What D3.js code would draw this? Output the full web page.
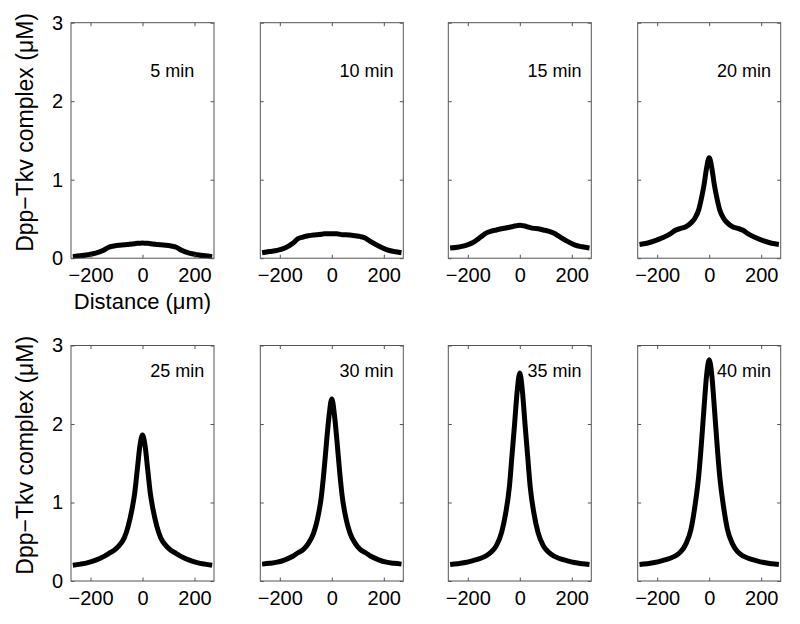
<!DOCTYPE html>
<html>
<head>
<meta charset="utf-8">
<script src="https://cdn.jsdelivr.net/npm/d3@7"></script>
<style>
  html, body { margin: 0; padding: 0; background: #fff; }
  svg { display: block; }
  text { font-family: "Liberation Sans", Arial, Helvetica, sans-serif; fill: #000; }
</style>
</head>
<body>
<svg id="chart" width="800" height="624"></svg>
<script>
// ---- data ----
const panelLabels = ["5 min", "10 min", "15 min", "20 min", "25 min", "30 min", "35 min", "40 min"];
const distance = [-268, -240, -210, -180, -150, -130, -110, -90, -70, -55, -40, -30, -20, -10, 0,
                  10, 20, 30, 40, 55, 70, 90, 110, 130, 150, 180, 210, 240, 268];
const t5  = [0.02, 0.03, 0.045, 0.065, 0.10, 0.14, 0.155, 0.165, 0.17, 0.175, 0.18, 0.185, 0.19, 0.19, 0.195,
             0.19, 0.19, 0.185, 0.18, 0.175, 0.17, 0.165, 0.155, 0.14, 0.10, 0.065, 0.045, 0.03, 0.02];
const t10 = [0.07, 0.085, 0.10, 0.13, 0.19, 0.25, 0.27, 0.285, 0.295, 0.30, 0.305, 0.31, 0.31, 0.31, 0.31,
             0.31, 0.31, 0.305, 0.30, 0.30, 0.295, 0.285, 0.275, 0.255, 0.21, 0.155, 0.11, 0.085, 0.07];
const t15 = [0.13, 0.14, 0.16, 0.20, 0.27, 0.32, 0.345, 0.36, 0.375, 0.385, 0.395, 0.40, 0.41, 0.415, 0.42,
             0.415, 0.41, 0.40, 0.39, 0.38, 0.375, 0.36, 0.345, 0.32, 0.28, 0.22, 0.17, 0.145, 0.13];
const t20 = [0.175, 0.19, 0.22, 0.26, 0.31, 0.355, 0.38, 0.40, 0.45, 0.51, 0.62, 0.76, 0.93, 1.15, 1.28,
             1.15, 0.93, 0.76, 0.62, 0.51, 0.45, 0.40, 0.38, 0.355, 0.31, 0.26, 0.22, 0.19, 0.175];
const t25 = [0.20, 0.215, 0.235, 0.265, 0.31, 0.35, 0.39, 0.45, 0.55, 0.70, 0.92, 1.12, 1.42, 1.72, 1.86,
             1.72, 1.42, 1.12, 0.92, 0.70, 0.55, 0.45, 0.39, 0.35, 0.31, 0.265, 0.235, 0.215, 0.20];
const t30 = [0.215, 0.225, 0.24, 0.27, 0.315, 0.36, 0.40, 0.48, 0.61, 0.79, 1.08, 1.40, 1.78, 2.12, 2.32,
             2.12, 1.78, 1.40, 1.08, 0.79, 0.61, 0.48, 0.40, 0.36, 0.315, 0.27, 0.24, 0.225, 0.215];
const t35 = [0.21, 0.22, 0.235, 0.26, 0.29, 0.32, 0.37, 0.45, 0.62, 0.85, 1.2, 1.6, 2.0, 2.42, 2.65,
             2.42, 2.0, 1.6, 1.2, 0.85, 0.62, 0.45, 0.37, 0.32, 0.29, 0.26, 0.235, 0.22, 0.21];
const t40 = [0.21, 0.22, 0.235, 0.26, 0.29, 0.32, 0.37, 0.47, 0.66, 0.95, 1.35, 1.75, 2.2, 2.62, 2.82,
             2.62, 2.2, 1.75, 1.35, 0.95, 0.66, 0.47, 0.37, 0.32, 0.29, 0.26, 0.235, 0.22, 0.21];
const seriesList = [t5, t10, t15, t20, t25, t30, t35, t40];
const xTicks = [-200, 0, 200];
const yTicks = [0, 1, 2, 3];
const yLabelText = "Dpp\u2212Tkv complex (\u03BCM)";
const xLabelText = "Distance (\u03BCm)";

// ---- layout ----
const colLeft = [71, 260.3, 448.3, 637.7];
const rowTop = [22.7, 345.5];
const pw = 143, ph = 235.5;
const tickLen = 3.5;

const svg = d3.select("#chart");

seriesList.forEach((vals, i) => {
  const row = Math.floor(i / 4), col = i % 4;
  const x0 = colLeft[col], y0 = rowTop[row];
  const x = d3.scaleLinear().domain([-275, 275]).range([x0, x0 + pw]);
  const y = d3.scaleLinear().domain([0, 3]).range([y0 + ph, y0]);
  const g = svg.append("g");

  // curve
  const pts = distance.map((d, k) => [d, vals[k]]);
  g.append("path")
    .datum(pts)
    .attr("fill", "none")
    .attr("stroke", "#000")
    .attr("stroke-width", 5)
    .attr("stroke-linejoin", "round")
    .attr("d", d3.line().x(d => x(d[0])).y(d => y(d[1])).curve(d3.curveMonotoneX));

  // box
  g.append("rect")
    .attr("x", x0).attr("y", y0).attr("width", pw).attr("height", ph)
    .attr("fill", "none").attr("stroke", "#555").attr("stroke-width", 1);

  // x ticks (inward, bottom and top)
  const xAxisB = d3.axisBottom(x).tickValues(xTicks).tickSize(-tickLen).tickPadding(6)
    .tickFormat(d3.format("d"));
  const gb = g.append("g").attr("transform", `translate(0,${y0 + ph})`).call(xAxisB);
  gb.select(".domain").remove();
  gb.selectAll("line").attr("stroke", "#555");
  gb.selectAll("text").attr("font-size", 20).attr("dy", "0.9em");

  const xAxisT = d3.axisTop(x).tickValues(xTicks).tickSize(-tickLen).tickFormat("");
  const gt = g.append("g").attr("transform", `translate(0,${y0})`).call(xAxisT);
  gt.select(".domain").remove();
  gt.selectAll("line").attr("stroke", "#555");

  // y ticks (inward, left and right)
  const yAxisL = d3.axisLeft(y).tickValues(yTicks).tickSize(-tickLen).tickPadding(8)
    .tickFormat(col === 0 ? d3.format("d") : "");
  const gl = g.append("g").attr("transform", `translate(${x0},0)`).call(yAxisL);
  gl.select(".domain").remove();
  gl.selectAll("line").attr("stroke", "#555");
  gl.selectAll("text").attr("font-size", 20);

  const yAxisR = d3.axisRight(y).tickValues(yTicks).tickSize(-tickLen).tickFormat("");
  const gr = g.append("g").attr("transform", `translate(${x0 + pw},0)`).call(yAxisR);
  gr.select(".domain").remove();
  gr.selectAll("line").attr("stroke", "#555");

  // time label
  g.append("text")
    .attr("x", x(30))
    .attr("y", y(row === 0 ? 2.31 : 2.6))
    .attr("font-size", 18)
    .attr("text-anchor", "start")
    .text(panelLabels[i]);

  // axis labels
  if (col === 0) {
    g.append("text")
      .attr("transform", `translate(${x0 - 38},${y0 + ph / 2 - 8}) rotate(-90)`)
      .attr("text-anchor", "middle")
      .attr("font-size", 23)
      .text(yLabelText);
  }
  if (i === 0) {
    g.append("text")
      .attr("x", x(0))
      .attr("y", y0 + ph + 51)
      .attr("text-anchor", "middle")
      .attr("font-size", 22)
      .text(xLabelText);
  }
});
</script>
</body>
</html>
